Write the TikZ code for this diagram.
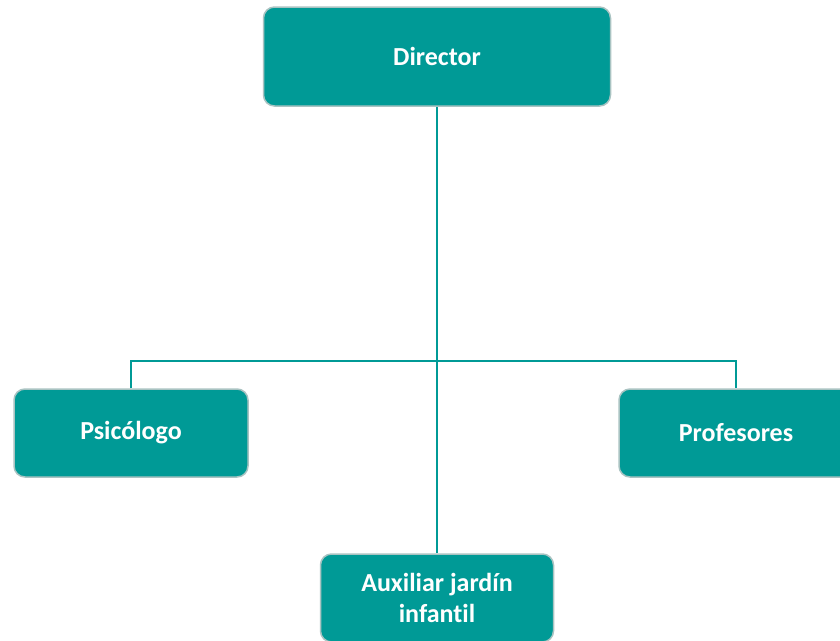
\documentclass[tikz,border=0pt]{standalone}
\usepackage{fontspec}
\setmainfont[RawFeature={-liga;-clig;-dlig}]{Carlito}
\definecolor{teal1}{HTML}{009A96}
\definecolor{edgegray}{HTML}{A9C3C2}
\begin{document}
\begin{tikzpicture}[x=1pt,y=-1pt,
  box/.style={draw=edgegray,line width=1.5pt,fill=teal1,rounded corners=11pt,
    text=white,font=\bfseries\fontsize{26}{31}\selectfont,align=center,inner sep=0pt},
  link/.style={draw=teal1,line width=2pt}]
\useasboundingbox (0,0) rectangle (840,640);
\node[box,minimum width=347pt,minimum height=99pt] (dir) at (437,56.5) {Director};
\node[box,minimum width=234pt,minimum height=88pt] (psi) at (131,433) {Psicólogo};
\node[box,minimum width=234pt,minimum height=88pt] (pro) at (736,433) {Profesores};
\node[box,minimum width=233pt,minimum height=88pt] (aux) at (437,598) {Auxiliar jardín\\infantil};
\coordinate (hl) at (131,361);
\coordinate (hr) at (736,361);
\draw[link] (dir.south) -- (aux.north);
\draw[link] (psi.north) -- (hl) -- (hr) -- (pro.north);
\end{tikzpicture}
\end{document}
